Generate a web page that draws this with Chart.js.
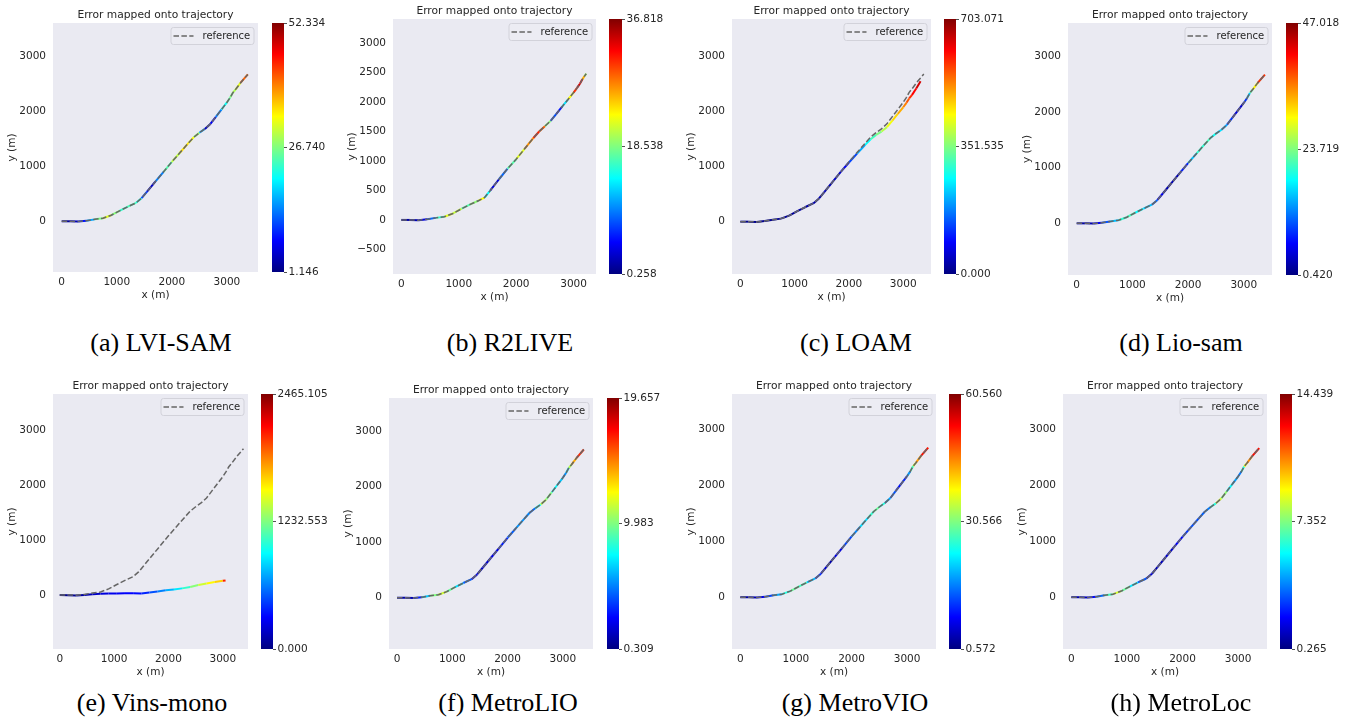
<!DOCTYPE html>
<html>
<head>
<meta charset="utf-8">
<script src="https://cdn.jsdelivr.net/npm/chart.js@4.4.0/dist/chart.umd.min.js"></script>
<style>
  html, body { margin: 0; padding: 0; background: #fff; }
  body { width: 1351px; height: 720px; position: relative; overflow: hidden; }
  canvas { position: absolute; }
  .cap { position: absolute; font-family: "Liberation Serif", "Times New Roman", serif; font-size: 26px; line-height: 26px; color: #000; white-space: nowrap; transform: translateX(-50%); }
</style>
</head>
<body>
<script>
// captions under each panel
const captions = ["(a) LVI-SAM", "(b) R2LIVE", "(c) LOAM", "(d) Lio-sam", "(e) Vins-mono", "(f) MetroLIO", "(g) MetroVIO", "(h) MetroLoc"];

// reference trajectory (m)
const refX = [0, 150, 300, 450, 600, 750, 900, 1050, 1200, 1350, 1450, 1550, 1700, 1850, 2000, 2150, 2300, 2400, 2500, 2600, 2700, 2800, 2900, 3000, 3060, 3110, 3160, 3250, 3380];
const refY = [0, 0, -5, 10, 35, 55, 110, 190, 265, 335, 420, 540, 720, 900, 1080, 1250, 1420, 1530, 1610, 1680, 1770, 1900, 2030, 2160, 2250, 2340, 2400, 2520, 2670];
// R2LIVE run is a bit shorter
const refBX = [0, 150, 300, 450, 600, 750, 900, 1050, 1200, 1350, 1450, 1550, 1700, 1850, 2000, 2150, 2300, 2400, 2500, 2600, 2700, 2800, 2900, 3000, 3060, 3110, 3150, 3190, 3220];
const refBY = [0, 0, -5, 10, 35, 55, 110, 190, 265, 330, 380, 500, 690, 870, 1030, 1210, 1390, 1500, 1590, 1680, 1800, 1920, 2040, 2160, 2240, 2310, 2380, 2440, 2480];
// LOAM drifts at the end
const estCX = [0, 150, 300, 450, 600, 750, 900, 1050, 1200, 1350, 1450, 1550, 1700, 1850, 2000, 2150, 2300, 2400, 2500, 2600, 2700, 2800, 2900, 3000, 3060, 3110, 3160, 3240, 3320];
const estCY = [0, 0, -5, 10, 35, 55, 110, 190, 265, 335, 420, 540, 720, 900, 1070, 1230, 1390, 1490, 1570, 1630, 1710, 1830, 1950, 2070, 2150, 2230, 2290, 2410, 2540];
// Vins-mono goes off
const estEX = [0, 150, 300, 450, 600, 750, 900, 1050, 1200, 1350, 1500, 1650, 1800, 1950, 2100, 2250, 2400, 2550, 2700, 2850, 3000, 3050];
const estEY = [0, -5, -12, 0, 12, 20, 25, 28, 30, 32, 28, 45, 65, 85, 100, 120, 145, 180, 210, 235, 258, 265];

// error along each trajectory
const errA = [2, 3, 5, 12, 20, 33, 30, 24, 22, 26, 18, 4, 6, 22, 27, 33, 36, 30, 26, 5, 4, 10, 18, 24, 26, 28, 30, 34, 48];
const errB = [1.5, 2, 2.5, 5, 12, 20, 24, 18, 16, 22, 24, 4, 3, 14, 20, 24, 30, 32, 26, 12, 3, 8, 18, 28, 33, 35, 30, 22, 18];
const errC = [5, 8, 10, 12, 15, 18, 20, 22, 25, 28, 30, 35, 40, 60, 100, 170, 240, 290, 330, 370, 410, 450, 480, 510, 540, 570, 600, 630, 660];
const errD = [2, 2.5, 3, 8, 12, 18, 22, 20, 16, 14, 8, 3, 2.5, 3, 12, 18, 22, 20, 17, 16, 12, 5, 4, 5, 12, 18, 26, 34, 44];
const errE = [20, 40, 60, 100, 150, 200, 250, 280, 300, 320, 340, 450, 560, 680, 800, 950, 1150, 1350, 1500, 1600, 1700, 2450];
const errF = [1, 1.2, 1.5, 5, 8, 12, 11, 8, 6, 3, 1.5, 1.5, 2, 2.5, 4, 5, 6, 4.5, 5, 10, 12, 8, 7, 6, 5, 9, 13, 15, 18];
const errG = [2, 3, 4, 10, 14, 22, 28, 30, 24, 14, 8, 3, 3, 10, 14, 18, 24, 28, 30, 20, 16, 10, 8, 12, 22, 32, 40, 48, 56];
const errH = [0.8, 1, 1.2, 3, 4, 9, 8, 6, 4.5, 2, 1, 1, 1.2, 1.5, 2.5, 3, 3.2, 3.5, 4, 8, 9, 6, 5, 3.5, 4, 8, 10, 11.5, 13.5];

// colorbar ticks (min, mid, max)
const cbA = [1.146, 26.740, 52.334];
const cbB = [0.258, 18.538, 36.818];
const cbC = [0.000, 351.535, 703.071];
const cbD = [0.420, 23.719, 47.018];
const cbE = [0.000, 1232.553, 2465.105];
const cbF = [0.309, 9.983, 19.657];
const cbG = [0.572, 30.566, 60.560];
const cbH = [0.265, 7.352, 14.439];

// axis ticks and limits
const xTicks = [0, 1000, 2000, 3000];
const yTicks = [0, 1000, 2000, 3000];
const yTicksB = [-500, 0, 500, 1000, 1500, 2000, 2500, 3000];
const xLims = [[-158, 3565], [-145, 3390], [-153, 3512], [-156, 3507], [-124, 3463], [-145, 3546], [-149, 3520], [-149, 3520]];
const yLims = [[-922, 3605], [-917, 3408], [-947, 3667], [-927, 3595], [-987, 3669], [-923, 3597], [-923, 3625], [-927, 3638]];

const panels = [
  { ref: [refX, refY], est: [refX, refY], err: errA, cb: cbA, yt: yTicks },
  { ref: [refBX, refBY], est: [refBX, refBY], err: errB, cb: cbB, yt: yTicksB },
  { ref: [refX, refY], est: [estCX, estCY], err: errC, cb: cbC, yt: yTicks },
  { ref: [refX, refY], est: [refX, refY], err: errD, cb: cbD, yt: yTicks },
  { ref: [refX, refY], est: [estEX, estEY], err: errE, cb: cbE, yt: yTicks },
  { ref: [refX, refY], est: [refX, refY], err: errF, cb: cbF, yt: yTicks },
  { ref: [refX, refY], est: [refX, refY], err: errG, cb: cbG, yt: yTicks },
  { ref: [refX, refY], est: [refX, refY], err: errH, cb: cbH, yt: yTicks }
];

// page layout: plot area [left, top, width, height], colorbar [left, width], caption [centerX, top]
const plotBox = [[53, 23, 205, 249], [393, 19, 203, 255], [732, 19, 199, 255], [1068, 23, 204, 252],
                 [53, 394, 195, 255], [389, 398, 204, 251], [732, 394, 204, 255], [1063, 394, 204, 255]];
const cbBox = [[272, 12], [609, 13], [944, 12], [1286, 12], [261, 12], [607, 12], [949, 12], [1280, 12]];
const capPos = [[161, 330], [510, 330], [856, 330], [1181, 330], [152, 690], [508, 690], [855, 690], [1181, 690]];

const FONT = "'DejaVu Sans', 'Liberation Sans', sans-serif";
const TXT = "#262626";
const REFCOL = "#666666";
const FS = 10.5;

function jet(t) {
  t = Math.max(0, Math.min(1, t));
  const c = v => Math.round(255 * Math.max(0, Math.min(1, v)));
  return "rgb(" + c(1.5 - Math.abs(4 * t - 3)) + "," + c(1.5 - Math.abs(4 * t - 2)) + "," + c(1.5 - Math.abs(4 * t - 1)) + ")";
}

function pts(xs, ys) {
  return xs.map((x, i) => ({ x: x, y: ys[i] }));
}

function fmt(v) {
  return v < 0 ? "\u2212" + Math.abs(v) : String(v);
}

function addCanvas(left, top, w, h) {
  const c = document.createElement("canvas");
  c.width = w; c.height = h;
  c.style.left = left + "px"; c.style.top = top + "px";
  c.style.width = w + "px"; c.style.height = h + "px";
  document.body.appendChild(c);
  return c;
}

// grey background and legend box inside the axes
const axesDeco = {
  id: "axesDeco",
  beforeDraw(chart) {
    const a = chart.chartArea, ctx = chart.ctx;
    ctx.save();
    ctx.fillStyle = "#EAEAF2";
    ctx.fillRect(a.left, a.top, a.right - a.left, a.bottom - a.top);
    ctx.restore();
  },
  afterDraw(chart) {
    const a = chart.chartArea, ctx = chart.ctx;
    const w = 83, h = 17;
    const x0 = a.right - 4.5 - w, y0 = a.top + 4;
    ctx.save();
    ctx.beginPath();
    ctx.roundRect(x0 + 0.5, y0 + 0.5, w, h, 2.5);
    ctx.fillStyle = "rgba(236,236,243,0.85)";
    ctx.fill();
    ctx.strokeStyle = "#d2d2da";
    ctx.lineWidth = 1;
    ctx.stroke();
    const cy = y0 + h / 2 + 0.5;
    ctx.beginPath();
    ctx.setLineDash([5.5, 2.4]);
    ctx.moveTo(x0 + 3, cy);
    ctx.lineTo(x0 + 23, cy);
    ctx.strokeStyle = REFCOL;
    ctx.lineWidth = 1.5;
    ctx.stroke();
    ctx.setLineDash([]);
    ctx.fillStyle = TXT;
    ctx.font = "10px " + FONT;
    ctx.textBaseline = "middle";
    ctx.textAlign = "left";
    ctx.fillText("reference", x0 + 32, cy);
    ctx.restore();
  }
};

function makePlot(i) {
  const p = panels[i];
  const [L, T, W, H] = plotBox[i];
  const c = addCanvas(L - 50, T - 20, W + 54, H + 56);
  const err = p.err;
  const lo = p.cb[0], hi = p.cb[2];
  const col = v => jet((v - lo) / (hi - lo));

  new Chart(c, {
    type: "line",
    data: {
      datasets: [
        {
          label: "reference",
          data: pts(p.ref[0], p.ref[1]),
          borderColor: REFCOL,
          borderWidth: 1.5,
          borderDash: [5.5, 2.4],
          pointRadius: 0,
          tension: 0,
          order: 0
        },
        {
          label: "estimate",
          data: pts(p.est[0], p.est[1]),
          borderColor: col(err[0]),
          borderWidth: 2,
          pointRadius: 0,
          tension: 0,
          order: 1,
          segment: {
            borderColor: ctx => col((err[ctx.p0DataIndex] + err[ctx.p1DataIndex]) / 2)
          }
        }
      ]
    },
    options: {
      responsive: false,
      animation: false,
      events: [],
      devicePixelRatio: 1,
      layout: { padding: { left: 0, right: 4, top: 0, bottom: 0 } },
      plugins: {
        legend: { display: false },
        tooltip: { enabled: false },
        title: {
          display: true,
          text: "Error mapped onto trajectory",
          fullSize: false,
          color: TXT,
          font: { family: FONT, size: 10.7, weight: "normal", lineHeight: "13px" },
          padding: { top: 6, bottom: 1 }
        }
      },
      scales: {
        x: {
          type: "linear",
          min: xLims[i][0], max: xLims[i][1],
          grid: { display: false, drawTicks: false },
          border: { display: false },
          afterBuildTicks: s => { s.ticks = xTicks.map(v => ({ value: v })); },
          afterFit: s => { s.height = 36; },
          ticks: { color: TXT, font: { family: FONT, size: FS }, padding: 4, maxRotation: 0, autoSkip: false, callback: v => fmt(v) },
          title: { display: true, text: "x (m)", color: TXT, font: { family: FONT, size: FS }, padding: { top: 0, bottom: 6 } }
        },
        y: {
          type: "linear",
          min: yLims[i][0], max: yLims[i][1],
          grid: { display: false, drawTicks: false },
          border: { display: false },
          afterBuildTicks: s => { s.ticks = p.yt.map(v => ({ value: v })); },
          afterFit: s => { s.width = 50; },
          ticks: { color: TXT, font: { family: FONT, size: FS }, padding: 7, autoSkip: false, callback: v => fmt(v) },
          title: { display: true, text: "y (m)", color: TXT, font: { family: FONT, size: FS }, padding: { top: 3, bottom: 0 } }
        }
      }
    },
    plugins: [axesDeco]
  });
}

function makeColorbar(i) {
  const p = panels[i];
  const T = plotBox[i][1], H = plotBox[i][3];
  const [cl, cw] = cbBox[i];
  const c = addCanvas(cl, T - 10, cw + 62, H + 20);
  const lo = p.cb[0], hi = p.cb[2];

  new Chart(c, {
    type: "bar",
    data: {
      labels: [""],
      datasets: [{
        data: [[lo, hi]],
        borderWidth: 0,
        barPercentage: 1,
        categoryPercentage: 1,
        backgroundColor: ctx => {
          const a = ctx.chart.chartArea;
          if (!a) return "#000";
          const g = ctx.chart.ctx.createLinearGradient(0, a.bottom, 0, a.top);
          for (let k = 0; k <= 32; k++) g.addColorStop(k / 32, jet(k / 32));
          return g;
        }
      }]
    },
    options: {
      responsive: false,
      animation: false,
      events: [],
      devicePixelRatio: 1,
      layout: { padding: { left: 0, right: 0, top: 10, bottom: 10 } },
      plugins: { legend: { display: false }, tooltip: { enabled: false } },
      scales: {
        x: { display: false },
        y: {
          position: "right",
          min: lo, max: hi,
          border: { display: false },
          grid: { display: true, drawOnChartArea: false, drawTicks: true, tickLength: 3, color: TXT, lineWidth: 0.8 },
          afterBuildTicks: s => { s.ticks = p.cb.map(v => ({ value: v })); },
          afterFit: s => { s.width = 62; },
          ticks: { color: TXT, font: { family: FONT, size: FS }, padding: 1.5, autoSkip: false, callback: v => v.toFixed(3) }
        }
      }
    }
  });
}

for (let i = 0; i < panels.length; i++) {
  makePlot(i);
  makeColorbar(i);
  const d = document.createElement("div");
  d.className = "cap";
  d.textContent = captions[i];
  d.style.left = capPos[i][0] + "px";
  d.style.top = capPos[i][1] + "px";
  document.body.appendChild(d);
}
</script>
</body>
</html>
